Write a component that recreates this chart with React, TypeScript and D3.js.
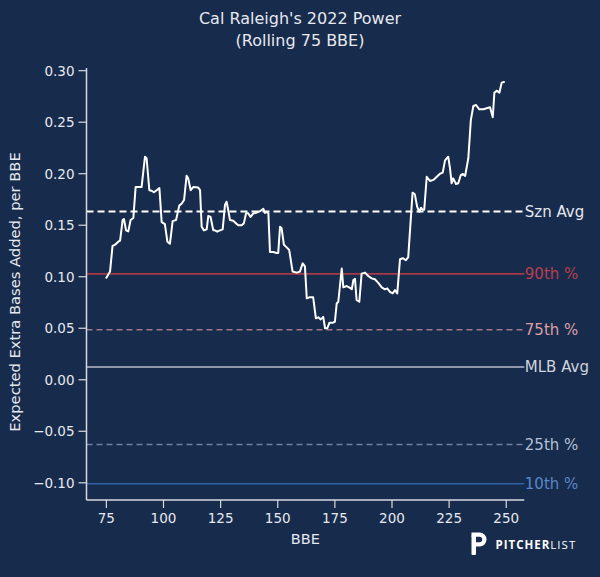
import { line as d3Line, scaleLinear } from "d3";
import { useMemo } from "react";

// rolling 75 BBE
const bbe = [
  75, 76.6, 77.7, 78.8, 80.2, 81, 82.1, 82.7, 83.6, 84.6, 85.6, 86.8, 87.8, 89, 90.4, 91.9, 92.6, 93.8,
  94.8, 95.8, 97, 98.2, 99.2, 100.6, 101.7, 102.8, 104, 105.5, 106.9, 108, 109, 110.1, 110.8, 111.9, 113,
  115.2, 116, 116.7, 117.7, 118.9, 119.6, 120.6, 121.8, 122.5, 123.5, 124.7, 125.9, 126.9, 127.6, 128.3,
  129.1, 130.5, 131.7, 132.7, 134.2, 135.2, 136.1, 137.1, 138.1, 139.3, 140.5, 141.5, 142.5, 143.7, 144.4,
  145.2, 145.9, 146.6, 148, 149.5, 150.2, 151, 151.7, 152.7, 153.9, 155, 156.5, 158.3, 159.7, 160.9, 161.9,
  162.7, 163.8, 165.5, 166.7, 167.7, 168.8, 169.9, 170.7, 171.7, 172.6, 174, 175, 175.8, 176.5, 178, 178.7,
  180.2, 181.3, 182.4, 183.1, 183.8, 184.5, 185.7, 186.7, 188.2, 189.6, 191.1, 192.5, 194, 195.5, 196.9,
  197.9, 199.1, 200.3, 201.3, 202.3, 203.5, 204.7, 206.1, 207.1, 209, 210, 211, 211.9, 212.7, 213.4, 214.1,
  215.2, 216.6, 218.1, 219.6, 221, 222.2, 223.2, 224.6, 225.4, 226.1, 226.8, 228, 229, 230.1, 231, 232,
  233.4, 234.5, 235.6, 236.8, 238.2, 240, 241.4, 242.9, 244.1, 244.8, 245.8, 247, 248, 249,
];
const xeba = [
  0.099, 0.105, 0.13, 0.131, 0.134, 0.135, 0.155, 0.156, 0.145, 0.144, 0.155, 0.157, 0.187, 0.187, 0.187,
  0.2165, 0.215, 0.184, 0.1835, 0.182, 0.184, 0.186, 0.153, 0.151, 0.134, 0.132, 0.154, 0.155, 0.169,
  0.171, 0.1745, 0.198, 0.1955, 0.184, 0.187, 0.1865, 0.184, 0.1485, 0.145, 0.146, 0.159, 0.158, 0.145,
  0.145, 0.1437, 0.145, 0.146, 0.1696, 0.1728, 0.165, 0.155, 0.1544, 0.152, 0.15, 0.15, 0.152, 0.1615,
  0.1615, 0.158, 0.1615, 0.162, 0.163, 0.164, 0.166, 0.162, 0.163, 0.1615, 0.124, 0.124, 0.123, 0.123,
  0.1485, 0.147, 0.131, 0.1285, 0.126, 0.105, 0.104, 0.105, 0.113, 0.11, 0.079, 0.08, 0.08, 0.0596, 0.0606,
  0.0586, 0.061, 0.05, 0.05, 0.0553, 0.0553, 0.0563, 0.074, 0.0757, 0.108, 0.0897, 0.091, 0.0897, 0.0878,
  0.0968, 0.098, 0.0774, 0.0757, 0.103, 0.104, 0.1007, 0.0984, 0.0975, 0.094, 0.0897, 0.0878, 0.0887,
  0.0854, 0.0839, 0.087, 0.0839, 0.117, 0.118, 0.116, 0.119, 0.1816, 0.18, 0.168, 0.163, 0.167, 0.165,
  0.165, 0.197, 0.193, 0.194, 0.197, 0.2, 0.201, 0.213, 0.2165, 0.205, 0.1907, 0.1955, 0.19, 0.1907,
  0.1987, 0.1997, 0.1978, 0.215, 0.252, 0.2657, 0.2667, 0.2625, 0.2625, 0.2635, 0.2645, 0.2548, 0.2786,
  0.2806, 0.2786, 0.2884, 0.289,
];

const refLabels = ["Szn Avg", "90th %", "75th %", "MLB Avg", "25th %", "10th %"];
const refValues = [0.1634, 0.1028, 0.0485, 0.0124, -0.0628, -0.1009];
const refLineColors = ["#ffffff", "#a83a46", "#a07888", "#b9bdc7", "#6f819f", "#2f61a3"];
const refTextColors = ["#e6e8ee", "#b93f4b", "#dc9ea2", "#cfd3dc", "#b3c0d4", "#5a86c6"];
const refDashed = [true, false, true, false, true, false];

const xTicks = [75, 100, 125, 150, 175, 200, 225, 250];
const yTicks = [-0.1, -0.05, 0, 0.05, 0.1, 0.15, 0.2, 0.25, 0.3];

const W = 600;
const H = 577;
const BG = "#172b4d";
const FG = "#e6e8ee";
const FONT = "'DejaVu Sans', sans-serif";
const PLOT = { left: 86.5, right: 524.3, top: 68, bottom: 500 };

export default function App() {
  const x = useMemo(() => scaleLinear().domain([66.3, 257.9]).range([PLOT.left, PLOT.right]), []);
  const y = useMemo(() => scaleLinear().domain([-0.1167, 0.3026]).range([PLOT.bottom, PLOT.top]), []);

  const path = useMemo(() => {
    const gen = d3Line<number>()
      .x((_, i) => x(bbe[i]))
      .y((d) => y(d));
    return gen(xeba) ?? "";
  }, [x, y]);

  return (
    <div style={{ position: "fixed", left: 0, top: 0 }}>
      <svg width={W} height={H} style={{ display: "block", fontFamily: FONT }}>
        <rect width={W} height={H} fill={BG} />

        <text x={300} y={24} textAnchor="middle" fill={FG} fontSize={16}>
          Cal Raleigh's 2022 Power
        </text>
        <text x={300} y={46} textAnchor="middle" fill={FG} fontSize={16}>
          (Rolling 75 BBE)
        </text>

        {refValues.map((v, i) => (
          <g key={refLabels[i]}>
            <line
              x1={PLOT.left}
              x2={PLOT.right}
              y1={y(v)}
              y2={y(v)}
              stroke={refLineColors[i]}
              strokeWidth={i === 0 ? 2 : 1.6}
              strokeDasharray={refDashed[i] ? (i === 0 ? "7,4" : "6,4") : undefined}
            />
            <text x={PLOT.right + 0.5} y={y(v)} dy="0.36em" fill={refTextColors[i]} fontSize={15}>
              {refLabels[i]}
            </text>
          </g>
        ))}

        <path d={path} fill="none" stroke="#ffffff" strokeWidth={2} strokeLinejoin="round" strokeLinecap="round" />

        {/* spines */}
        <line x1={PLOT.left} x2={PLOT.left} y1={PLOT.top} y2={PLOT.bottom} stroke="#d8dae0" strokeWidth={1.5} />
        <line x1={PLOT.left} x2={PLOT.right} y1={PLOT.bottom} y2={PLOT.bottom} stroke="#d8dae0" strokeWidth={1.5} />

        {yTicks.map((t) => (
          <g key={t} transform={`translate(0,${y(t)})`}>
            <line x1={PLOT.left - 8} x2={PLOT.left} stroke="#d8dae0" strokeWidth={1.2} />
            <text x={PLOT.left - 12} dy="0.36em" textAnchor="end" fill={FG} fontSize={13.5}>
              {t < 0 ? "\u2212" + Math.abs(t).toFixed(2) : t.toFixed(2)}
            </text>
          </g>
        ))}

        {xTicks.map((t) => (
          <g key={t} transform={`translate(${x(t)},0)`}>
            <line y1={PLOT.bottom} y2={PLOT.bottom + 8} stroke="#d8dae0" strokeWidth={1.2} />
            <text y={523} textAnchor="middle" fill={FG} fontSize={13.5}>
              {t}
            </text>
          </g>
        ))}

        <text x={(PLOT.left + PLOT.right) / 2} y={544} textAnchor="middle" fill={FG} fontSize={14.5}>
          BBE
        </text>
        <text
          transform={`translate(20,${(PLOT.top + PLOT.bottom) / 2 + 8}) rotate(-90)`}
          textAnchor="middle"
          fill={FG}
          fontSize={14.7}
        >
          Expected Extra Bases Added, per BBE
        </text>

        {/* PitcherList mark */}
        <g fill="#ffffff">
          <rect x={471.5} y={535} width={4.5} height={20} rx={1} />
          <path d="M471.5,532.5 h8 a7,7 0 0 1 0,14 h-3.5 v-4.3 h3.5 a2.7,2.7 0 0 0 0,-5.4 h-8 z" />
        </g>
        <text x={495.5} y={548.5} fill="#ffffff" fontSize={11.5} fontFamily="'Open Sans', sans-serif" letterSpacing={1}>
          <tspan fontWeight={700}>PITCHER</tspan>
          <tspan fontWeight={400}>LIST</tspan>
        </text>
      </svg>
    </div>
  );
}
